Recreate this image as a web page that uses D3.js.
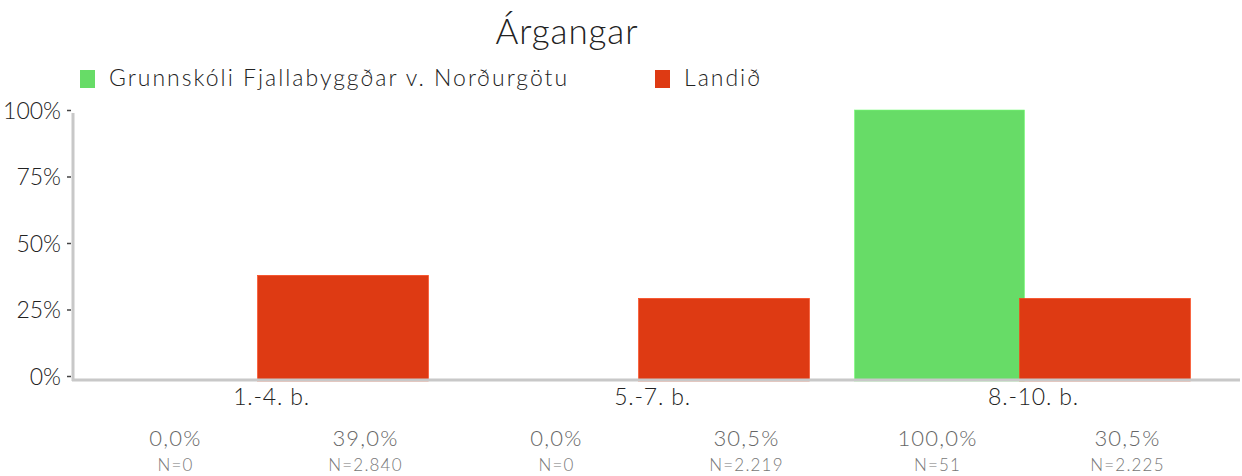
<!DOCTYPE html>
<html>
<head>
<meta charset="utf-8">
<script src="https://cdn.jsdelivr.net/npm/d3@7"></script>
<style>
  body { margin: 0; background: #fff; }
  text { font-family: "Lato", "Open Sans", sans-serif; font-weight: 300; }
</style>
</head>
<body>
<script>
var width = 1242;
var height = 476;

// data
var categories = ["1.-4. b.", "5.-7. b.", "8.-10. b."];
var seriesNames = ["Grunnskóli Fjallabyggðar v. Norðurgötu", "Landið"];
var schoolValues = [0.0, 0.0, 100.0];
var nationValues = [39.0, 30.5, 30.5];
var schoolN = ["0", "0", "51"];
var nationN = ["2.840", "2.219", "2.225"];
var yTicks = [0, 25, 50, 75, 100];
var colours = ["#67dc67", "#de3a13"];

var fmtPct = (v) => v.toFixed(1).replace(".", ",") + "%";

var svg = d3.select("body")
    .append("svg")
    .attr("width", width)
    .attr("height", height);

var x = d3.scaleBand()
    .domain(categories)
    .range([70, 1213]);

var y = d3.scaleLinear()
    .domain([0, 100])
    .range([381, 110]);

// tick labels sit a little higher than bar base in the original
var yAxisScale = d3.scaleLinear()
    .domain([0, 100])
    .range([376, 110]);

// title
svg.append("text")
    .attr("x", 567)
    .attr("y", 44)
    .attr("text-anchor", "middle")
    .attr("font-size", 35)
    .attr("letter-spacing", 0.9)
    .attr("fill", "#222")
    .text("Árgangar");

// legend
var legendX = [80, 655];
var legend = svg.selectAll("g.legend")
    .data(seriesNames)
    .enter().append("g")
    .attr("class", "legend")
    .attr("transform", (d, i) => `translate(${legendX[i]},0)`);
legend.append("rect")
    .attr("x", 0).attr("y", 70)
    .attr("width", 15).attr("height", 18)
    .attr("fill", (d, i) => colours[i]);
legend.append("text")
    .attr("x", 29).attr("y", 86)
    .attr("font-size", 23)
    .attr("letter-spacing", 2.0)
    .attr("fill", "#222")
    .text((d) => d);

// bars
var rows = categories.map((c, i) => [
    { cat: c, s: 0, v: schoolValues[i] },
    { cat: c, s: 1, v: nationValues[i] }
]).flat();

svg.selectAll("rect.bar")
    .data(rows)
    .enter().append("rect")
    .attr("class", "bar")
    .attr("x", (d) => x(d.cat) + x.bandwidth() / 2 + (d.s === 0 ? -168 : -3))
    .attr("width", (d) => d.s === 0 ? 170 : 171)
    .attr("y", (d) => y(d.v))
    .attr("height", (d) => y(0) - y(d.v))
    .attr("fill", (d) => colours[d.s])
    .attr("stroke", (d) => d.v > 0 ? d3.color(colours[d.s]).brighter(0.4) : "none")
    .attr("stroke-width", 0.6);

// axis lines
svg.append("line")
    .attr("x1", 73).attr("x2", 73)
    .attr("y1", 113).attr("y2", 381)
    .attr("stroke", "#c8c8c8").attr("stroke-width", 3);
svg.append("line")
    .attr("x1", 72).attr("x2", 1240)
    .attr("y1", 380).attr("y2", 380)
    .attr("stroke", "#c8c8c8").attr("stroke-width", 3);

// y axis ticks
var yAxis = svg.append("g")
    .attr("transform", "translate(71,0)")
    .call(d3.axisLeft(yAxisScale)
        .tickValues(yTicks)
        .tickSize(4)
        .tickPadding(6)
        .tickFormat((d) => d + "%"));
yAxis.select(".domain").remove();
yAxis.selectAll("line").attr("stroke", "#444").attr("stroke-width", 1.5);
yAxis.selectAll("text")
    .attr("font-size", 23)
    .attr("fill", "#222")
    .attr("dy", "0.35em")
    .style("font-family", "Lato, sans-serif")
    .style("font-weight", 300);

// category labels
svg.selectAll("text.cat")
    .data(categories)
    .enter().append("text")
    .attr("class", "cat")
    .attr("x", (d) => x(d) + x.bandwidth() / 2 + 11)
    .attr("y", 405)
    .attr("text-anchor", "middle")
    .attr("font-size", 23)
    .attr("letter-spacing", 0.8)
    .attr("fill", "#222")
    .text((d) => d);

// value + N labels below
var labelRows = categories.map((c, i) => [
    { cat: c, s: 0, v: schoolValues[i], n: schoolN[i] },
    { cat: c, s: 1, v: nationValues[i], n: nationN[i] }
]).flat();

svg.selectAll("text.pct")
    .data(labelRows)
    .enter().append("text")
    .attr("class", "pct")
    .attr("x", (d) => x(d.cat) + x.bandwidth() / 2 + (d.s === 0 ? -85 : 105))
    .attr("y", 446)
    .attr("text-anchor", "middle")
    .attr("font-size", 22)
    .attr("letter-spacing", 1.2)
    .attr("fill", "#666")
    .text((d) => fmtPct(d.v));

svg.selectAll("text.n")
    .data(labelRows)
    .enter().append("text")
    .attr("class", "n")
    .attr("x", (d) => x(d.cat) + x.bandwidth() / 2 + (d.s === 0 ? -85 : 105))
    .attr("y", 471)
    .attr("text-anchor", "middle")
    .attr("font-size", 17)
    .attr("letter-spacing", 1.2)
    .attr("fill", "#777")
    .text((d) => "N=" + d.n);
</script>
</body>
</html>
